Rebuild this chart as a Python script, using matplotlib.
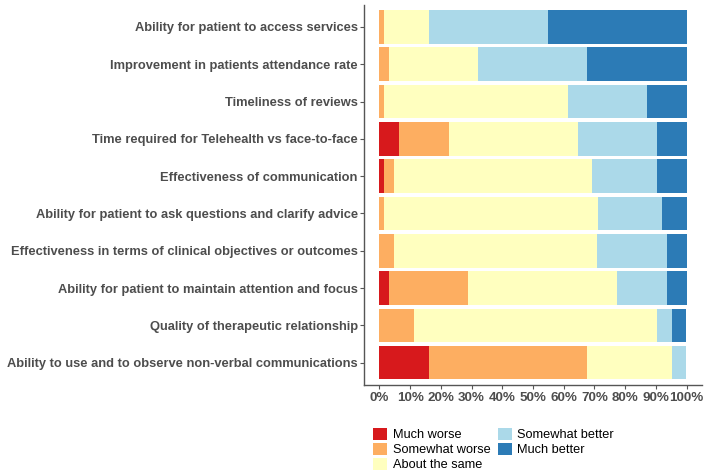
import numpy as np
import matplotlib
matplotlib.use("Agg")
import matplotlib.pyplot as plt
from matplotlib.patches import Patch

# survey items, top to bottom
items = [
    "Ability for patient to access services",
    "Improvement in patients attendance rate",
    "Timeliness of reviews",
    "Time required for Telehealth vs face-to-face",
    "Effectiveness of communication",
    "Ability for patient to ask questions and clarify advice",
    "Effectiveness in terms of clinical objectives or outcomes",
    "Ability for patient to maintain attention and focus",
    "Quality of therapeutic relationship",
    "Ability to use and to observe non-verbal communications",
]

levels = ["Much worse", "Somewhat worse", "About the same", "Somewhat better", "Much better"]
level_colors = ["#D7191C", "#FDAE61", "#FFFFBF", "#ABD9E9", "#2C7BB6"]

# percentages per response level (same order as items)
much_worse      = [0.0, 0.0, 0.0, 6.5, 1.6, 0.0, 0.0, 3.2, 0.0, 16.1]
somewhat_worse  = [1.6, 3.2, 1.6, 16.1, 3.2, 1.6, 4.8, 25.8, 11.3, 51.6]
about_same      = [14.5, 29.0, 59.7, 41.9, 64.5, 69.4, 66.1, 48.4, 79.0, 27.4]
somewhat_better = [38.7, 35.5, 25.8, 25.8, 21.0, 21.0, 22.6, 16.1, 4.8, 4.6]
much_better     = [45.2, 32.3, 12.9, 9.7, 9.7, 8.1, 6.5, 6.5, 4.6, 0.0]

x_ticks = [0, 10, 20, 30, 40, 50, 60, 70, 80, 90, 100]
x_ticklabels = [f"{t}%" for t in x_ticks]

series = [much_worse, somewhat_worse, about_same, somewhat_better, much_better]

tick_color = "#4D4D4D"
fig = plt.figure(figsize=(7.08, 4.73), dpi=100)
ax = fig.add_axes([364 / 708, 1 - 385 / 473, 338 / 708, 380.4 / 473])

ypos = np.arange(len(items))
left = np.zeros(len(items))
for vals, col, lab in zip(series, level_colors, levels):
    vals = np.array(vals)
    ax.barh(ypos, vals, left=left, height=0.9, color=col, label=lab, linewidth=0)
    left += vals

ax.set_xlim(-5, 105)
ax.set_ylim(len(items) - 0.4, -0.6)
ax.set_yticks(ypos)
ax.set_yticklabels(items, fontfamily="Liberation Sans", fontweight="bold",
                   fontsize=9.3, color=tick_color)
ax.set_xticks(x_ticks)
ax.set_xticklabels(x_ticklabels, fontfamily="Liberation Sans", fontweight="bold",
                   fontsize=9.6, color=tick_color)
ax.tick_params(axis="both", length=3, width=0.8, color="#555555", pad=2)
ax.tick_params(axis="y", pad=1.5)

for side in ["top", "right"]:
    ax.spines[side].set_visible(False)
for side in ["left", "bottom"]:
    ax.spines[side].set_color("#555555")
    ax.spines[side].set_linewidth(1.0)

handles = [Patch(facecolor=c, edgecolor="none", label=l) for c, l in zip(level_colors, levels)]
fig.legend(handles=handles, loc="upper left", bbox_to_anchor=(373 / 708, 1 - 428 / 473),
           ncol=2, frameon=False, prop={"family": "Liberation Sans", "size": 9.2},
           handlelength=1.1, handleheight=1.1, handletextpad=0.45,
           columnspacing=0.55, labelspacing=0.1, borderpad=0, borderaxespad=0)

fig.savefig("out.png", dpi=100)
